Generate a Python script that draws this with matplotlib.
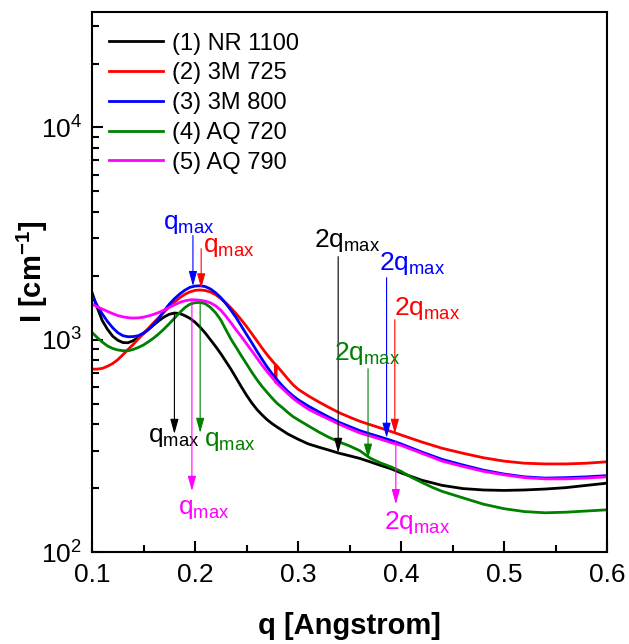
import numpy as np
import matplotlib
matplotlib.use("Agg")
import matplotlib.pyplot as plt
from matplotlib.ticker import MultipleLocator, LogLocator, NullFormatter

plt.rcParams['font.family'] = ['Liberation Sans', 'DejaVu Sans']
plt.rcParams['mathtext.fontset'] = 'custom'
plt.rcParams['mathtext.rm'] = 'Liberation Sans'
plt.rcParams['mathtext.it'] = 'Liberation Sans:italic'
plt.rcParams['mathtext.bf'] = 'Liberation Sans:bold'

# curves: q [1/A], I [1/cm]
q_nr1100 = [0.100, 0.105, 0.110, 0.115, 0.120, 0.125, 0.130, 0.135, 0.140, 0.145,
            0.150, 0.155, 0.160, 0.165, 0.170, 0.175, 0.180, 0.185, 0.190, 0.195,
            0.200, 0.205, 0.210, 0.215, 0.220, 0.225, 0.230, 0.235, 0.240, 0.245,
            0.250, 0.255, 0.260, 0.265, 0.270, 0.275, 0.280, 0.290, 0.300, 0.310,
            0.320, 0.330, 0.340, 0.350, 0.360, 0.370, 0.380, 0.390, 0.400, 0.420,
            0.440, 0.460, 0.480, 0.500, 0.520, 0.540, 0.560, 0.580, 0.600]
i_nr1100 = [1671, 1420, 1230, 1120, 1040, 995, 970, 968, 990, 1025,
            1070, 1120, 1175, 1230, 1280, 1318, 1336, 1330, 1300, 1262,
            1210, 1145, 1075, 1000, 930, 860, 790, 725, 660, 600,
            548, 505, 470, 443, 420, 402, 387, 360, 340, 323,
            312, 302, 292, 284, 276, 266, 256, 247, 236, 218,
            206, 199, 196, 195, 196, 198, 201, 206, 211]

q_3m725 = [0.100, 0.105, 0.110, 0.115, 0.120, 0.125, 0.130, 0.135, 0.140, 0.145,
           0.150, 0.155, 0.160, 0.165, 0.170, 0.175, 0.180, 0.185, 0.190, 0.195,
           0.200, 0.205, 0.210, 0.215, 0.220, 0.225, 0.230, 0.235, 0.240, 0.245,
           0.250, 0.255, 0.260, 0.265, 0.270, 0.275, 0.278, 0.2785, 0.279, 0.285,
           0.290, 0.295, 0.300, 0.310, 0.320, 0.330, 0.340, 0.350, 0.360, 0.370,
           0.380, 0.390, 0.400, 0.420, 0.440, 0.460, 0.480, 0.500, 0.520, 0.540,
           0.560, 0.580, 0.600]
i_3m725 = [727, 727, 733, 750, 772, 805, 850, 900, 950, 1010,
           1070, 1135, 1205, 1274, 1350, 1430, 1505, 1575, 1635, 1680,
           1708, 1716, 1705, 1678, 1630, 1565, 1490, 1410, 1325, 1240,
           1155, 1070, 990, 915, 850, 795, 765, 629, 758, 700,
           655, 615, 585, 544, 510, 480, 453, 432, 413, 398,
           384, 370, 356, 330, 308, 292, 278, 268, 262, 260,
           260, 262, 266]

q_3m800 = [0.100, 0.105, 0.110, 0.115, 0.120, 0.125, 0.130, 0.135, 0.140, 0.145,
           0.150, 0.155, 0.160, 0.165, 0.170, 0.175, 0.180, 0.185, 0.190, 0.195,
           0.200, 0.205, 0.210, 0.215, 0.220, 0.225, 0.230, 0.235, 0.240, 0.245,
           0.250, 0.255, 0.260, 0.265, 0.270, 0.275, 0.280, 0.285, 0.290, 0.295,
           0.300, 0.310, 0.320, 0.330, 0.340, 0.350, 0.360, 0.370, 0.380, 0.390,
           0.400, 0.420, 0.440, 0.460, 0.480, 0.500, 0.520, 0.540, 0.560, 0.580,
           0.600]
i_3m800 = [1613, 1450, 1322, 1220, 1140, 1080, 1045, 1033, 1035, 1045,
           1075, 1120, 1185, 1265, 1370, 1470, 1560, 1640, 1710, 1765,
           1790, 1795, 1780, 1735, 1665, 1580, 1480, 1375, 1270, 1160,
           1060, 970, 885, 810, 745, 690, 645, 605, 572, 545,
           522, 487, 458, 432, 408, 390, 373, 360, 348, 336,
           323, 296, 273, 257, 243, 233, 226, 223, 224, 226,
           229]

q_aq720 = [0.100, 0.105, 0.110, 0.115, 0.120, 0.125, 0.130, 0.135, 0.140, 0.145,
           0.150, 0.155, 0.160, 0.165, 0.170, 0.175, 0.180, 0.185, 0.190, 0.195,
           0.200, 0.205, 0.210, 0.215, 0.220, 0.225, 0.230, 0.235, 0.240, 0.245,
           0.250, 0.255, 0.260, 0.265, 0.270, 0.275, 0.280, 0.285, 0.290, 0.295,
           0.300, 0.310, 0.320, 0.330, 0.340, 0.350, 0.360, 0.370, 0.380, 0.390,
           0.400, 0.410, 0.420, 0.430, 0.440, 0.460, 0.480, 0.500, 0.520, 0.540,
           0.560, 0.580, 0.600]
i_aq720 = [1083, 1025, 975, 935, 910, 895, 888, 887, 900, 920,
           945, 980, 1020, 1068, 1125, 1190, 1262, 1340, 1415, 1470,
           1495, 1500, 1478, 1420, 1340, 1240, 1115, 1005, 920, 840,
           770, 705, 650, 603, 565, 530, 500, 478, 455, 435,
           420, 393, 368, 347, 330, 316, 300, 277, 263, 252,
           240, 225, 213, 202, 193, 180, 168, 160, 155, 153,
           154, 156, 158]

q_aq790 = [0.100, 0.105, 0.110, 0.115, 0.120, 0.125, 0.130, 0.135, 0.140, 0.145,
           0.150, 0.155, 0.160, 0.165, 0.170, 0.175, 0.180, 0.185, 0.190, 0.195,
           0.200, 0.205, 0.210, 0.215, 0.220, 0.225, 0.230, 0.235, 0.240, 0.245,
           0.250, 0.255, 0.260, 0.265, 0.270, 0.275, 0.280, 0.285, 0.290, 0.295,
           0.300, 0.310, 0.320, 0.330, 0.340, 0.350, 0.360, 0.370, 0.380, 0.390,
           0.400, 0.420, 0.440, 0.460, 0.480, 0.500, 0.520, 0.540, 0.560, 0.580,
           0.600]
i_aq790 = [1473, 1430, 1395, 1360, 1328, 1300, 1282, 1270, 1265, 1268,
           1278, 1295, 1318, 1345, 1380, 1420, 1460, 1498, 1525, 1540,
           1542, 1535, 1520, 1492, 1445, 1378, 1292, 1200, 1112, 1035,
           958, 888, 822, 760, 708, 662, 620, 588, 558, 530,
           508, 471, 445, 422, 400, 381, 364, 352, 340, 328,
           318, 292, 268, 253, 240, 231, 224, 221, 221, 223,
           226]

labels = ['(1) NR 1100', '(2) 3M 725', '(3) 3M 800', '(4) AQ 720', '(5) AQ 790']
colors = ['black', '#ff0000', '#0000ff', '#008000', '#ff00ff']

# arrows: (colour, q, I at tail, I at head, text, text q, text I)
marks = [
    ('#0000ff', 0.198, 3096, 1790, 'q$_{\\mathrm{max}}$', 0.1937, 3506),
    ('#ff0000', 0.206, 2687, 1745, 'q$_{\\mathrm{max}}$', 0.2325, 2731),
    ('black', 0.180, 1341, 360, 'q$_{\\mathrm{max}}$', 0.1791, 349),
    ('#008000', 0.205, 1500, 364, 'q$_{\\mathrm{max}}$', 0.2335, 334),
    ('#ff00ff', 0.197, 1560, 194, 'q$_{\\mathrm{max}}$', 0.2083, 160),
    ('black', 0.339, 2464, 293, '2q$_{\\mathrm{max}}$', 0.3476, 2931),
    ('#0000ff', 0.386, 1960, 345, '2q$_{\\mathrm{max}}$', 0.4107, 2283),
    ('#ff0000', 0.394, 1243, 360, '2q$_{\\mathrm{max}}$', 0.4252, 1408),
    ('#008000', 0.368, 730, 275, '2q$_{\\mathrm{max}}$', 0.3675, 864),
    ('#ff00ff', 0.395, 334, 168, '2q$_{\\mathrm{max}}$', 0.4155, 138),
]

fig = plt.figure(figsize=(6.29, 6.44), dpi=100)
ax = fig.add_axes([92/629, 92/644, 515/629, 540/644])

series = [(q_nr1100, i_nr1100), (q_3m725, i_3m725), (q_3m800, i_3m800),
          (q_aq720, i_aq720), (q_aq790, i_aq790)]
for (q, inten), lab, c in zip(series, labels, colors):
    ax.plot(q, inten, color=c, lw=2.0, label=lab)

for c, xq, y0, y1, txt, tx, ty in marks:
    ax.annotate('', xy=(xq, y1), xytext=(xq, y0),
                arrowprops=dict(arrowstyle='-|>,head_length=0.9,head_width=0.25',
                                color=c, lw=0.8, shrinkA=0, shrinkB=0,
                                mutation_scale=10))
    ax.text(tx, ty, txt, color=c, fontsize=19, ha='center', va='center')

ax.set_yscale('log')
ax.set_xlim(0.1, 0.6)
ax.set_ylim(100, 35000)
ax.xaxis.set_major_locator(MultipleLocator(0.1))
ax.xaxis.set_minor_locator(MultipleLocator(0.05))
ax.yaxis.set_major_locator(LogLocator(base=10))
ax.yaxis.set_minor_locator(LogLocator(base=10, subs=np.arange(2, 10)))
ax.yaxis.set_minor_formatter(NullFormatter())

ax.tick_params(which='both', direction='in', top=False, right=False, width=1.5)
ax.tick_params(which='major', length=8, labelsize=19)
ax.tick_params(axis='x', which='major', pad=8)
ax.tick_params(axis='y', which='major', pad=7)
ax.tick_params(which='minor', length=5)
for s in ax.spines.values():
    s.set_linewidth(1.5)

ax.set_xlabel('q [Angstrom]', fontsize=21, fontweight='bold')
ax.set_ylabel('I [cm$^{\\mathbf{-1}}$]', fontsize=21, fontweight='bold')
ax.xaxis.set_label_coords(0.5, -0.112)
ax.yaxis.set_label_coords(-0.082, 0.519)

ax.legend(loc='upper left', bbox_to_anchor=(0.033, 0.962), frameon=False,
          fontsize=17, handlelength=2.3, handletextpad=0.35, labelspacing=0.33,
          borderpad=0, borderaxespad=0)

fig.savefig('out.png', dpi=100)
